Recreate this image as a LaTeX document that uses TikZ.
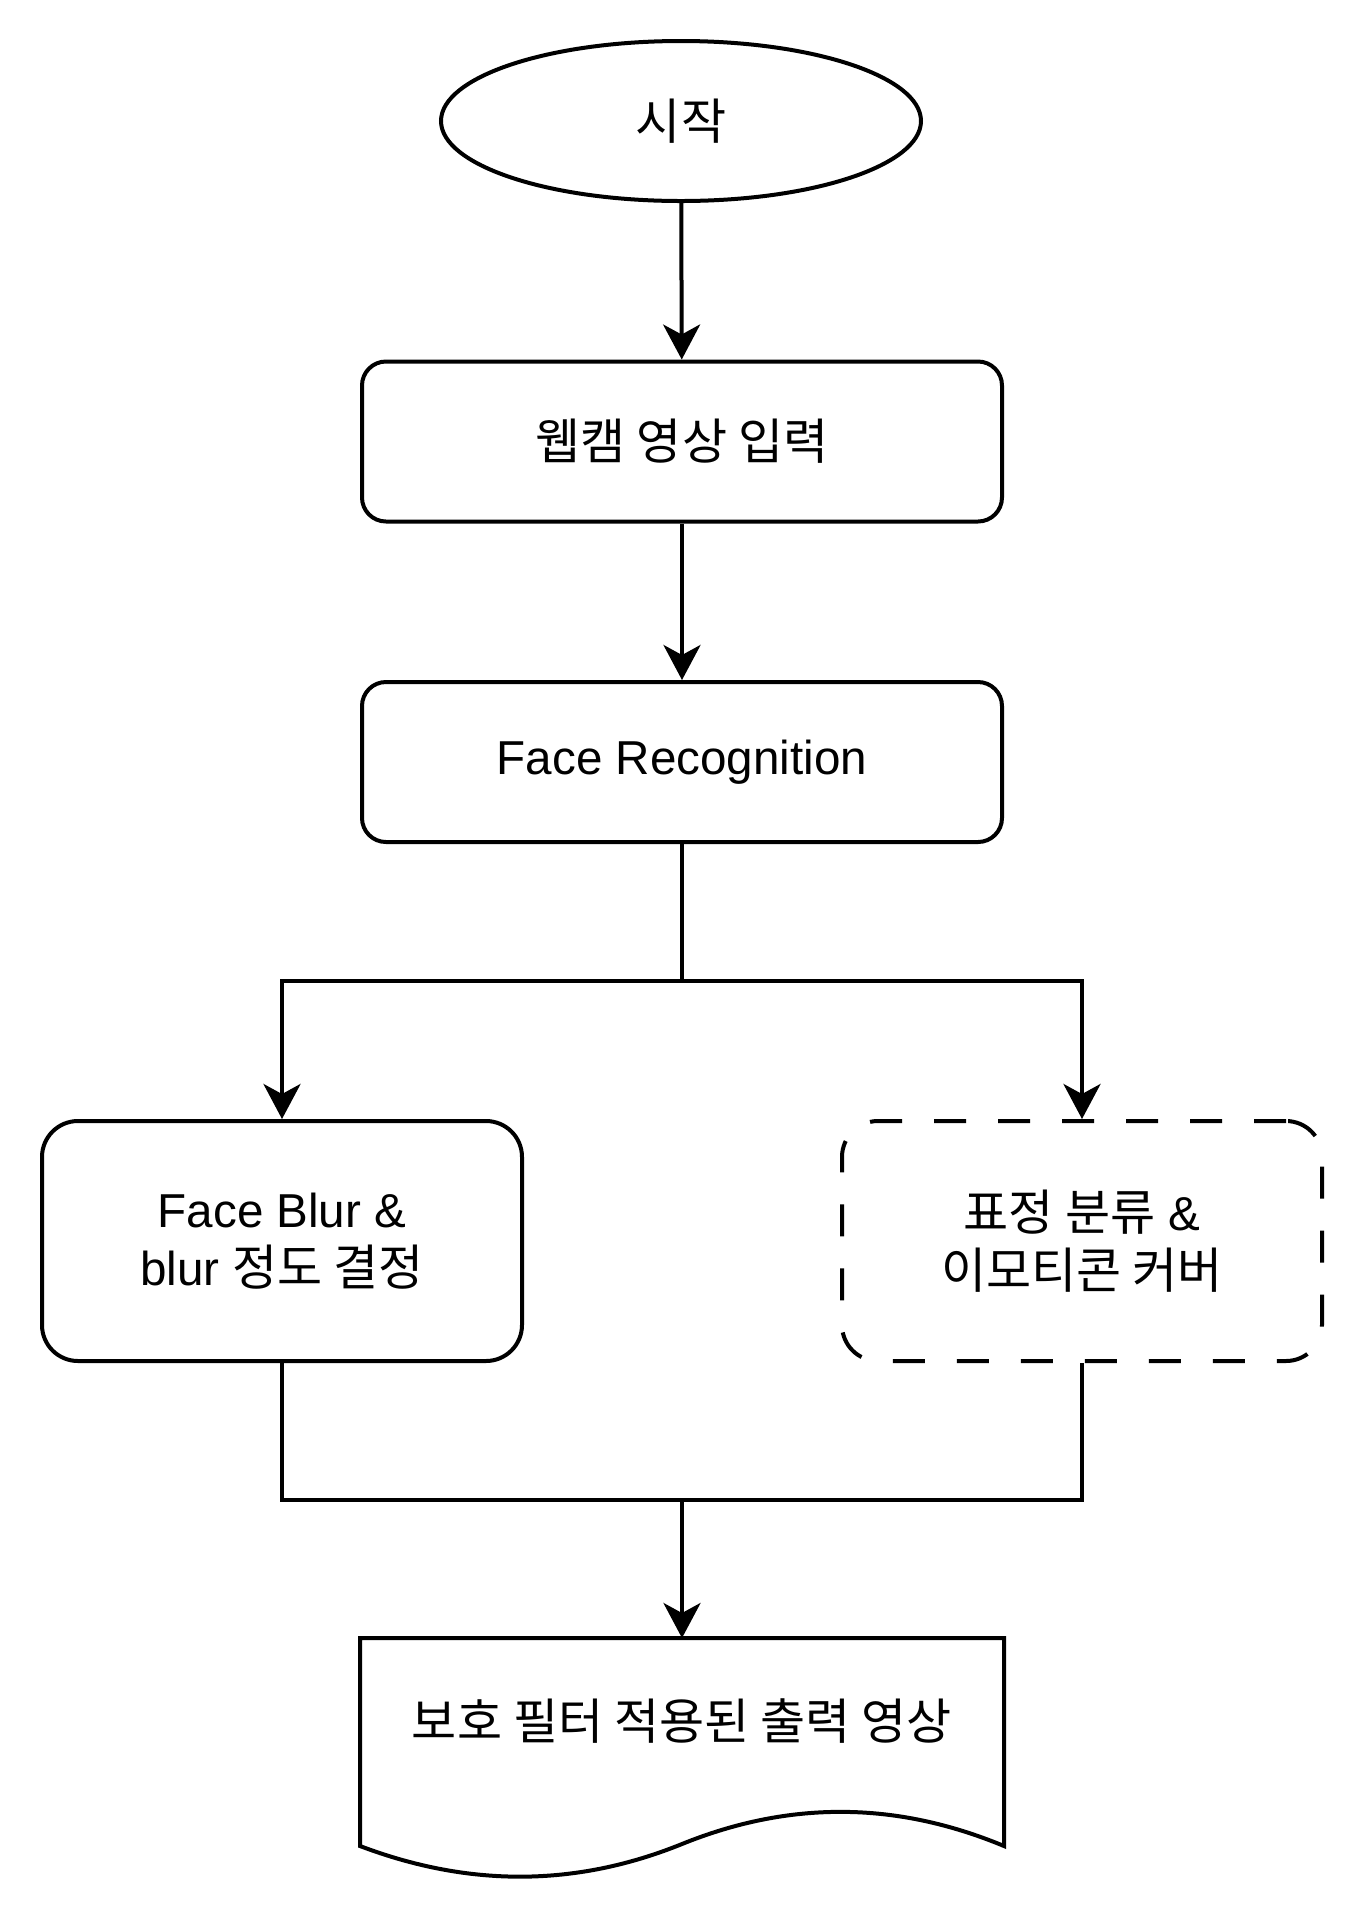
\documentclass[tikz,border=0pt]{standalone}
\usepackage{fontspec}
\setmainfont{Liberation Sans}
\newfontfamily\krfont[Scale=1.03]{Noto Sans CJK KR}
\newcommand{\kr}[1]{{\krfont #1}}
\usetikzlibrary{arrows.meta,shapes.geometric,calc}

\begin{document}
\begin{tikzpicture}[x=0.5pt,y=-0.5pt,line width=2pt,
        font=\fontsize{23.8}{29}\selectfont,
        flow/.style={-{Stealth[length=17.5pt,width=18.5pt,inset=5pt]}},
        startnode/.style={draw,ellipse,minimum width=240pt,minimum height=80pt,inner sep=0pt},
        procbox/.style={draw,rectangle,rounded corners=12pt,minimum width=320pt,minimum height=80pt,inner sep=0pt},
        sidebox/.style={draw,rectangle,rounded corners=18pt,minimum width=240pt,minimum height=120pt,inner sep=0pt,align=center},
        optbox/.style={sidebox,dash pattern=on 16pt off 16pt}]
        \useasboundingbox (0,0) rectangle (1364,1924);

        % main column
        \node[startnode] (start) at (681,121) {\kr{시작}};
        \node[procbox] (cam) at (682,441.5) {\kr{웹캠 영상 입력}};
        \node[procbox] (face) at (682,762) {Face Recognition};

        % the two branches
        \node[sidebox] (blur) at (282,1241) {Face Blur \&\\blur \kr{정도 결정}};
        \node[optbox] (emo) at (1082,1241) {\kr{표정 분류} \&\\\kr{이모티콘 커버}};

        % output document: box for anchors, text and wavy outline drawn by hand
        \node[minimum width=320pt,minimum height=102pt,inner sep=0pt] (out) at (682,1742) {};
        \node (outtext) at (682,1721) {\kr{보호 필터 적용된 출력 영상}};
        \draw (out.south west) -- (out.north west) -- (out.north east) -- (out.south east)
            .. controls (895.3,1800.8) and (788.7,1800.8) .. (682,1844)
            .. controls (575.3,1887.2) and (468.7,1887.2) .. (out.south west) -- cycle;

        \coordinate (split) at (682,981);   % where face recognition forks
        \coordinate (merge) at (682,1500);  % where the branches join again

        \draw[flow] (start) -- (cam);
        \draw[flow] (cam) -- (face);
        \draw (face) -- (split);
        \draw[flow] (split) -| (blur);
        \draw[flow] (split) -| (emo);
        \draw (blur) |- (merge);
        \draw (emo) |- (merge);
        \draw[flow] (merge) -- (out);
    \end{tikzpicture}
\end{document}
